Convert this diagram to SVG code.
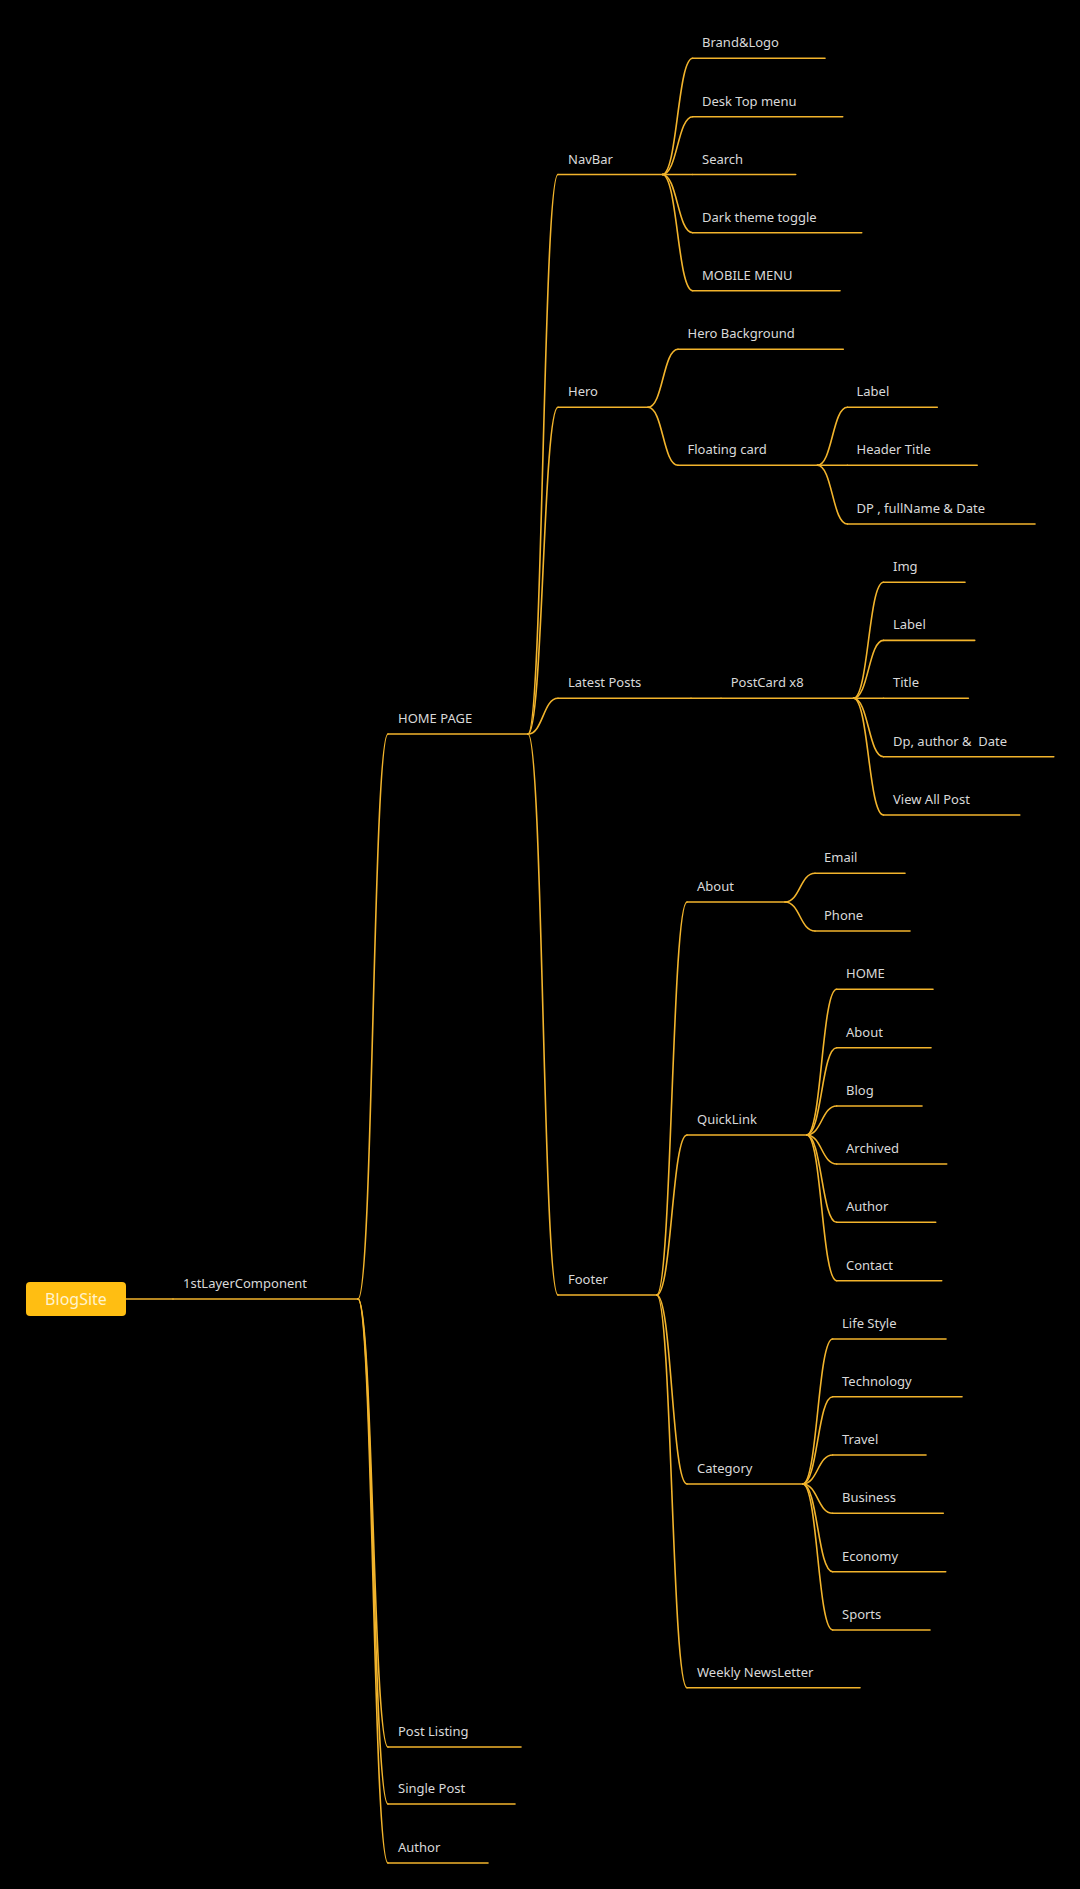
<svg xmlns="http://www.w3.org/2000/svg" width="1080" height="1889" viewBox="0 0 1080 1889">
<style>
.bg{fill:#000}
.ln{stroke:#F2B42C;stroke-width:1.6;fill:none;stroke-linecap:round}
.t{font-family:"Noto Sans","Open Sans",sans-serif;font-size:13px;fill:#d9d9d9}
.rt{font-family:"Noto Sans","Open Sans",sans-serif;font-size:16px;fill:#fff3cf;text-anchor:middle}
</style>
<rect class="bg" x="0" y="0" width="1080" height="1889"/>
<g id="connectors" class="ln">
<path d="M126 1299 L173 1299"/>
<path d="M358 1299 C373 1299 373 734 388 734"/>
<path d="M358 1299 C373 1299 373 1747 388 1747"/>
<path d="M358 1299 C373 1299 373 1804 388 1804"/>
<path d="M358 1299 C373 1299 373 1863 388 1863"/>
<path d="M528 734 C543 734 543 174.5 558 174.5"/>
<path d="M528 734 C543 734 543 407.3 558 407.3"/>
<path d="M528 734 C543 734 543 698.3 558 698.3"/>
<path d="M528 734 C543 734 543 1295 558 1295"/>
<path d="M662.3 174.5 C677.5 174.5 677.5 58.3 692.7 58.3"/>
<path d="M662.3 174.5 C677.5 174.5 677.5 116.7 692.7 116.7"/>
<path d="M662.3 174.5 L692.7 174.5"/>
<path d="M662.3 174.5 C677.5 174.5 677.5 232.7 692.7 232.7"/>
<path d="M662.3 174.5 C677.5 174.5 677.5 290.7 692.7 290.7"/>
<path d="M648 407.3 C663 407.3 663 349.3 678 349.3"/>
<path d="M648 407.3 C663 407.3 663 465.3 678 465.3"/>
<path d="M817.4 465.3 C832.4 465.3 832.4 407.3 847.4 407.3"/>
<path d="M817.4 465.3 L847.4 465.3"/>
<path d="M817.4 465.3 C832.4 465.3 832.4 524 847.4 524"/>
<path d="M691 698.3 L721 698.3"/>
<path d="M853.5 698.3 C868.5 698.3 868.5 582.2 883.5 582.2"/>
<path d="M853.5 698.3 C868.5 698.3 868.5 640.4 883.5 640.4"/>
<path d="M853.5 698.3 L883.5 698.3"/>
<path d="M853.5 698.3 C868.5 698.3 868.5 756.8 883.5 756.8"/>
<path d="M853.5 698.3 C868.5 698.3 868.5 815 883.5 815"/>
<path d="M656.7 1295 C671.8 1295 671.8 902 687 902"/>
<path d="M656.7 1295 C671.8 1295 671.8 1135 687 1135"/>
<path d="M656.7 1295 C671.8 1295 671.8 1484 687 1484"/>
<path d="M656.7 1295 C671.8 1295 671.8 1687.7 687 1687.7"/>
<path d="M785 902 C800 902 800 873.3 815 873.3"/>
<path d="M785 902 C800 902 800 931 815 931"/>
<path d="M806.7 1135 C821.7 1135 821.7 989.3 836.7 989.3"/>
<path d="M806.7 1135 C821.7 1135 821.7 1047.7 836.7 1047.7"/>
<path d="M806.7 1135 C821.7 1135 821.7 1106 836.7 1106"/>
<path d="M806.7 1135 C821.7 1135 821.7 1164 836.7 1164"/>
<path d="M806.7 1135 C821.7 1135 821.7 1222.3 836.7 1222.3"/>
<path d="M806.7 1135 C821.7 1135 821.7 1280.7 836.7 1280.7"/>
<path d="M802.7 1484 C817.7 1484 817.7 1339 832.7 1339"/>
<path d="M802.7 1484 C817.7 1484 817.7 1396.7 832.7 1396.7"/>
<path d="M802.7 1484 C817.7 1484 817.7 1455 832.7 1455"/>
<path d="M802.7 1484 C817.7 1484 817.7 1513.3 832.7 1513.3"/>
<path d="M802.7 1484 C817.7 1484 817.7 1571.7 832.7 1571.7"/>
<path d="M802.7 1484 C817.7 1484 817.7 1630 832.7 1630"/>
</g>
<g id="n-blogsite"><rect x="26" y="1282" width="100" height="34" rx="4" fill="#FFBE12"/><text class="rt" x="76" y="1304.5">BlogSite</text></g>
<g id="n-1stlayer"><path class="ln" d="M173 1299 H358"/><text class="t" x="183" y="1288">1stLayerComponent</text></g>
<g id="n-homepage"><path class="ln" d="M388 734 H528"/><text class="t" x="398" y="723">HOME PAGE</text></g>
<g id="n-postlisting"><path class="ln" d="M388 1747 H521"/><text class="t" x="398" y="1736">Post Listing</text></g>
<g id="n-singlepost"><path class="ln" d="M388 1804 H515"/><text class="t" x="398" y="1793">Single Post</text></g>
<g id="n-author"><path class="ln" d="M388 1863 H488"/><text class="t" x="398" y="1852">Author</text></g>
<g id="n-navbar"><path class="ln" d="M558 174.5 H662.3"/><text class="t" x="568" y="163.5">NavBar</text></g>
<g id="n-hero"><path class="ln" d="M558 407.3 H648"/><text class="t" x="568" y="396.3">Hero</text></g>
<g id="n-latestposts"><path class="ln" d="M558 698.3 H691"/><text class="t" x="568" y="687.3">Latest Posts</text></g>
<g id="n-footer"><path class="ln" d="M558 1295 H656.7"/><text class="t" x="568" y="1284">Footer</text></g>
<g id="n-brand"><path class="ln" d="M692.7 58.3 H825"/><text class="t" x="702" y="47.3">Brand&amp;Logo</text></g>
<g id="n-desktop"><path class="ln" d="M692.7 116.7 H842.7"/><text class="t" x="702" y="105.7">Desk Top menu</text></g>
<g id="n-search"><path class="ln" d="M692.7 174.5 H795.7"/><text class="t" x="702" y="163.5">Search</text></g>
<g id="n-dark"><path class="ln" d="M692.7 232.7 H861.7"/><text class="t" x="702" y="221.7">Dark theme toggle</text></g>
<g id="n-mobile"><path class="ln" d="M692.7 290.7 H840"/><text class="t" x="702" y="279.7">MOBILE MENU</text></g>
<g id="n-herobg"><path class="ln" d="M678 349.3 H843.3"/><text class="t" x="687.5" y="338.3">Hero Background</text></g>
<g id="n-floating"><path class="ln" d="M678 465.3 H817.4"/><text class="t" x="687.5" y="454.3">Floating card</text></g>
<g id="n-fc-label"><path class="ln" d="M847.4 407.3 H937.3"/><text class="t" x="856.5" y="396.3">Label</text></g>
<g id="n-fc-title"><path class="ln" d="M847.4 465.3 H977.2"/><text class="t" x="856.5" y="454.3">Header Title</text></g>
<g id="n-fc-dp"><path class="ln" d="M847.4 524 H1035"/><text class="t" x="856.5" y="513" xml:space="preserve">DP , fullName &amp; Date</text></g>
<g id="n-postcard"><path class="ln" d="M721 698.3 H853.5"/><text class="t" x="730.7" y="687.3">PostCard x8</text></g>
<g id="n-pc-img"><path class="ln" d="M883.5 582.2 H965"/><text class="t" x="893" y="571.2">Img</text></g>
<g id="n-pc-label"><path class="ln" d="M883.5 640.4 H974.7"/><text class="t" x="893" y="629.4">Label</text></g>
<g id="n-pc-title"><path class="ln" d="M883.5 698.3 H968.4"/><text class="t" x="893" y="687.3">Title</text></g>
<g id="n-pc-dp"><path class="ln" d="M883.5 756.8 H1053.8"/><text class="t" x="893" y="745.8" xml:space="preserve">Dp, author &amp;  Date</text></g>
<g id="n-pc-view"><path class="ln" d="M883.5 815 H1019.8"/><text class="t" x="893" y="804">View All Post</text></g>
<g id="n-f-about"><path class="ln" d="M687 902 H785"/><text class="t" x="697" y="891">About</text></g>
<g id="n-f-quick"><path class="ln" d="M687 1135 H806.7"/><text class="t" x="697" y="1124">QuickLink</text></g>
<g id="n-f-category"><path class="ln" d="M687 1484 H802.7"/><text class="t" x="697" y="1473">Category</text></g>
<g id="n-f-news"><path class="ln" d="M687 1687.7 H860"/><text class="t" x="697" y="1676.7">Weekly NewsLetter</text></g>
<g id="n-email"><path class="ln" d="M815 873.3 H905"/><text class="t" x="824" y="862.3">Email</text></g>
<g id="n-phone"><path class="ln" d="M815 931 H910"/><text class="t" x="824" y="920">Phone</text></g>
<g id="n-q-home"><path class="ln" d="M836.7 989.3 H933"/><text class="t" x="846" y="978.3">HOME</text></g>
<g id="n-q-about"><path class="ln" d="M836.7 1047.7 H931"/><text class="t" x="846" y="1036.7">About</text></g>
<g id="n-q-blog"><path class="ln" d="M836.7 1106 H922"/><text class="t" x="846" y="1095">Blog</text></g>
<g id="n-q-archived"><path class="ln" d="M836.7 1164 H946.7"/><text class="t" x="846" y="1153">Archived</text></g>
<g id="n-q-author"><path class="ln" d="M836.7 1222.3 H935.7"/><text class="t" x="846" y="1211.3">Author</text></g>
<g id="n-q-contact"><path class="ln" d="M836.7 1280.7 H941.7"/><text class="t" x="846" y="1269.7">Contact</text></g>
<g id="n-c-life"><path class="ln" d="M832.7 1339 H946"/><text class="t" x="842" y="1328">Life Style</text></g>
<g id="n-c-tech"><path class="ln" d="M832.7 1396.7 H962"/><text class="t" x="842" y="1385.7">Technology</text></g>
<g id="n-c-travel"><path class="ln" d="M832.7 1455 H926"/><text class="t" x="842" y="1444">Travel</text></g>
<g id="n-c-business"><path class="ln" d="M832.7 1513.3 H943.3"/><text class="t" x="842" y="1502.3">Business</text></g>
<g id="n-c-economy"><path class="ln" d="M832.7 1571.7 H945.7"/><text class="t" x="842" y="1560.7">Economy</text></g>
<g id="n-c-sports"><path class="ln" d="M832.7 1630 H930"/><text class="t" x="842" y="1619">Sports</text></g>
</svg>
